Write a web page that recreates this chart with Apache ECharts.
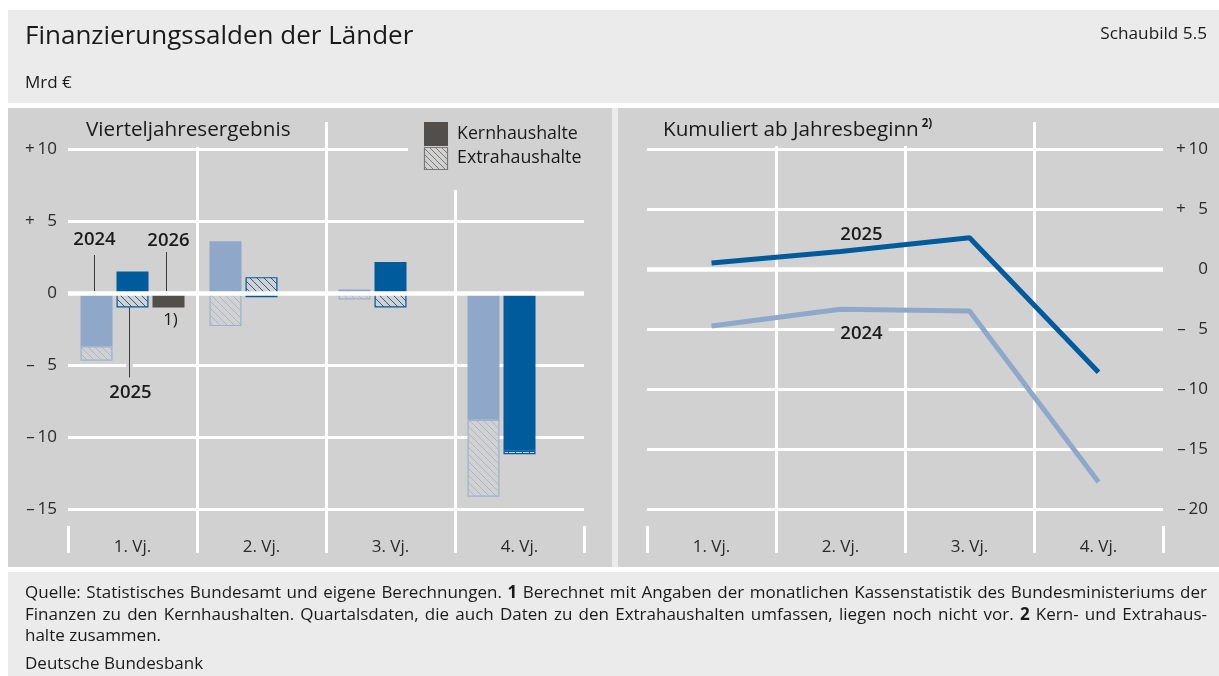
<!DOCTYPE html>
<html>
<head>
<meta charset="utf-8">
<script src="https://cdn.jsdelivr.net/npm/echarts@6/dist/echarts.min.js"></script>
<style>
  html, body { margin: 0; padding: 0; background: #ffffff; }
  #chart { width: 1219px; height: 676px; }
</style>
</head>
<body>
<div id="chart"></div>
<script>
// ---- data (Mrd €) ----
const quarters = ['1. Vj.', '2. Vj.', '3. Vj.', '4. Vj.'];
// quarterly balances
const kern2024  = [-3.7, 3.6, 0.25, -8.8];
const extra2024 = [-1.0, -2.3, -0.45, -5.35];
const kern2025  = [1.5, -0.3, 2.15, -10.95];
const extra2025 = [-1.0, 1.1, -1.0, -0.25];
const kern2026  = [-1.0, null, null, null];
// cumulative since start of year (core + extra budgets)
const cum2024 = [-4.75, -3.35, -3.5, -17.75];
const cum2025 = [0.5, 1.45, 2.6, -8.6];

const noteLines = [
  [['Quelle: Statistisches Bundesamt und eigene Berechnungen.', false], ['1', true],
   ['Berechnet mit Angaben der monatlichen Kassenstatistik des Bundesministeriums der', false]],
  [['Finanzen zu den Kernhaushalten. Quartalsdaten, die auch Daten zu den Extrahaushalten umfassen, liegen noch nicht vor.', false],
   ['2', true], ['Kern- und Extrahaus-', false]],
  [['halte zusammen.', false]]
];

// ---- styling ----
const FONT = '"Open Sans", "Noto Sans", sans-serif';
const TXT = '#1a1a1a';
const OUTER = '#ebebeb';
const PANEL = '#d1d1d1';
const GRIDC = '#ffffff';
const LIGHT = '#8fa8c9';
const DARK = '#005b9c';
const GREY = '#524e4c';
const BAR_W = 32, BAR_GAP = 4;
const AXIS_FS = 17;

function hatch(bg, fg, step, lw) {
  const c = document.createElement('canvas');
  c.width = step; c.height = step;
  const g = c.getContext('2d');
  g.fillStyle = bg; g.fillRect(0, 0, step, step);
  g.strokeStyle = fg; g.lineWidth = lw;
  [-step, 0, step].forEach(function (o) {
    g.beginPath(); g.moveTo(o, 0); g.lineTo(o + step, step); g.stroke();
  });
  return { image: c, repeat: 'repeat' };
}
const hatch24 = hatch(PANEL, '#a9b8cc', 7, 1);
const hatch25 = hatch(PANEL, '#23609a', 7, 1);
const hatchLeg = hatch(PANEL, '#7a7a7a', 6, 1);

function fmtTick(v) {
  if (v === 0) return '0';
  const a = Math.abs(v);
  return (v > 0 ? '+' : '\u2013') + '\u2009' + (a < 10 ? '\u2007' : '') + a;
}

const measureCtx = document.createElement('canvas').getContext('2d');
function textWidth(t, size, bold) {
  measureCtx.font = (bold ? 'bold ' : '') + size + 'px ' + FONT;
  return measureCtx.measureText(t).width;
}

function txt(x, y, text, size, opts) {
  opts = opts || {};
  return {
    type: 'text', x: x, y: y, z: 20,
    style: {
      text: text, fill: opts.fill || TXT, fontSize: size, fontFamily: FONT,
      fontWeight: opts.weight || (opts.bold ? 'bold' : 'normal'),
      align: opts.align || 'left', verticalAlign: opts.va || 'middle'
    }
  };
}

// justified footnote paragraph
function footnote(x0, x1, ys) {
  const lineWords = noteLines.map(function (line) {
    const words = [];
    line.forEach(function (seg) {
      seg[0].split(' ').forEach(function (w) { if (w) words.push([w, seg[1]]); });
    });
    return words;
  });
  // font size so that the longest line fits with plain word spacing
  const natural = function (words, size) {
    return words.reduce(function (a, w) { return a + textWidth(w[0], size, w[1]); }, 0) +
      (words.length - 1) * textWidth(' ', size, false);
  };
  const widest = Math.max.apply(null, lineWords.map(function (w) { return natural(w, 16); }));
  const size = Math.min(17, 16 * (x1 - x0) * 0.995 / widest);
  const out = [];
  const spaceW = textWidth(' ', size, false);
  lineWords.forEach(function (words, li) {
    const widths = words.map(function (w) { return textWidth(w[0], size, w[1]); });
    const total = widths.reduce(function (a, b) { return a + b; }, 0);
    const last = li === lineWords.length - 1;
    const gap = last ? spaceW : (x1 - x0 - total) / (words.length - 1);
    let x = x0;
    words.forEach(function (w, i) {
      out.push(txt(x, ys[li], w[0], size, { bold: w[1] }));
      x += widths[i] + gap;
    });
  });
  out.push(txt(x0, 664, 'Deutsche Bundesbank', size));
  return out;
}

function rect(x, y, w, h, fill, z) {
  return { type: 'rect', z: z, silent: true, shape: { x: x, y: y, width: w, height: h }, style: { fill: fill } };
}

const HEAD_FS = 20.7;
const baseGraphic = [
  rect(8, 10, 1211, 666, OUTER, -20),
  rect(8, 103, 1211, 5, '#ffffff', -19),
  rect(8, 567, 1211, 5, '#ffffff', -19),
  rect(8, 108, 604, 459, PANEL, -18),
  rect(618, 108, 601, 459, PANEL, -18),
  // backgrounds behind panel headings and legend
  rect(68, 111, 236, 36, PANEL, 1),
  rect(652, 111, 292, 35, PANEL, 1),
  rect(408, 111, 198, 79, PANEL, 1),
  txt(25, 37, 'Finanzierungssalden der Länder', 26),
  txt(1207, 34, 'Schaubild 5.5', 17.2, { align: 'right' }),
  txt(25, 83, 'Mrd €', 17),
  txt(86, 130, 'Vierteljahresergebnis', HEAD_FS),
  txt(663, 130, 'Kumuliert ab Jahresbeginn', HEAD_FS),
  txt(663 + textWidth('Kumuliert ab Jahresbeginn', HEAD_FS, false) + 3, 124, '2)', 11.5, { bold: true }),
  // legend
  rect(424, 122, 24, 24, GREY, 10),
  { type: 'rect', z: 10, shape: { x: 424.5, y: 147.5, width: 23, height: 22 }, style: { fill: hatchLeg, stroke: '#777777', lineWidth: 1.2 } },
  txt(457, 134, 'Kernhaushalte', 17.8),
  txt(457, 158, 'Extrahaushalte', 17.8)
].concat(footnote(25, 1207, [593, 615, 636]));

function sepX(gridIndex) {
  return {
    type: 'category', gridIndex: gridIndex, data: quarters, boundaryGap: true,
    axisLine: { show: false },
    axisTick: { show: true, inside: true, length: 27, lineStyle: { color: GRIDC, width: 3 } },
    axisLabel: { show: true, inside: true, margin: 6, verticalAlign: 'middle', color: '#2a2a2a', fontSize: AXIS_FS, fontFamily: FONT },
    splitLine: { show: true, showMinLine: false, showMaxLine: false, lineStyle: { color: GRIDC, width: 3 } }
  };
}
function hiddenX(gridIndex) {
  return { type: 'category', gridIndex: gridIndex, data: quarters, boundaryGap: true, show: false };
}
function valY(gridIndex, min, max, pos, margin, align) {
  return {
    type: 'value', gridIndex: gridIndex, min: min, max: max, interval: 5, position: pos,
    axisLine: { show: false }, axisTick: { show: false },
    axisLabel: { formatter: fmtTick, margin: margin, align: align, color: '#2a2a2a', fontSize: AXIS_FS, fontFamily: FONT },
    splitLine: { show: true, lineStyle: { color: GRIDC, width: 3 } }
  };
}

const zeroLine = {
  silent: true, symbol: ['none', 'none'],
  label: { show: false },
  lineStyle: { color: GRIDC, width: 4.5, type: 'solid' },
  data: [{ yAxis: 0 }]
};

function barSeries(name, data, stack, style, extra) {
  return Object.assign({
    type: 'bar', name: name, xAxisIndex: 0, yAxisIndex: 0, data: data, stack: stack,
    barWidth: BAR_W, barGap: (BAR_GAP / BAR_W * 100) + '%',
    itemStyle: style, emphasis: { disabled: true }
  }, extra || {});
}

const YEAR_FS = 18.5;
const YEAR_W = 600;
function lineLabel(text, idx, values, offset, bg) {
  return {
    symbol: 'circle', symbolSize: 1, itemStyle: { color: 'rgba(0,0,0,0)' }, silent: true,
    data: [{
      coord: [idx, values[idx]],
      label: {
        show: true, position: 'inside', offset: offset, formatter: text,
        color: TXT, fontSize: YEAR_FS, fontWeight: YEAR_W, fontFamily: FONT,
        backgroundColor: bg ? PANEL : 'transparent', padding: [1, 6]
      }
    }]
  };
}

const chart = echarts.init(document.getElementById('chart'), null, { renderer: 'canvas' });

const option = {
  animation: false,
  backgroundColor: '#ffffff',
  textStyle: { fontFamily: FONT },
  grid: [
    { left: 68, top: 149, width: 516, height: 360, outerBoundsMode: 'none' },
    { left: 68, top: 122, width: 516, height: 431, outerBoundsMode: 'none' },
    { left: 647, top: 149, width: 516, height: 360, outerBoundsMode: 'none' },
    { left: 647, top: 122, width: 516, height: 431, outerBoundsMode: 'none' }
  ],
  xAxis: [hiddenX(0), sepX(1), hiddenX(2), sepX(3)],
  yAxis: [
    valY(0, -15, 10, 'left', 11, 'right'),
    { type: 'value', gridIndex: 1, min: 0, max: 1, show: false },
    valY(2, -20, 10, 'right', 45, 'right'),
    { type: 'value', gridIndex: 3, min: 0, max: 1, show: false }
  ],
  series: [
    barSeries('Kernhaushalte 2024', kern2024, 's2024', { color: LIGHT }),
    barSeries('Extrahaushalte 2024', extra2024, 's2024', { color: hatch24, borderColor: '#9db1cc', borderWidth: 1.2 }),
    barSeries('Kernhaushalte 2025', kern2025, 's2025', { color: DARK }),
    barSeries('Extrahaushalte 2025', extra2025, 's2025', { color: hatch25, borderColor: DARK, borderWidth: 1.2 }),
    barSeries('Kernhaushalte 2026', kern2026, 's2026', { color: GREY }, { markLine: zeroLine }),
    {
      type: 'line', name: '2024', xAxisIndex: 2, yAxisIndex: 2, data: cum2024, z: 6,
      symbol: 'none', lineStyle: { color: LIGHT, width: 5 }, emphasis: { disabled: true },
      markLine: zeroLine,
      markPoint: lineLabel('2024', 1, cum2024, [21, 25], true)
    },
    {
      type: 'line', name: '2025', xAxisIndex: 2, yAxisIndex: 2, data: cum2025, z: 7,
      symbol: 'none', lineStyle: { color: DARK, width: 5 }, emphasis: { disabled: true },
      markPoint: lineLabel('2025', 1, cum2025, [21, -17], false)
    }
  ],
  graphic: { elements: baseGraphic }
};
chart.setOption(option);

// year annotations with leader lines on the first quarter's bars
(function () {
  const px = function (cat, v) { return chart.convertToPixel({ gridIndex: 0 }, [cat, v]); };
  const p0 = px(0, 0);
  const cx = p0[0], zeroY = p0[1];
  const slot = BAR_W + BAR_GAP;
  const x24 = cx - slot - 2, x25 = cx - 3, x26 = cx + slot - 2;
  const bottom25 = px(0, Math.min(0, kern2025[0]) + Math.min(0, extra2025[0]))[1];
  const bottom26 = px(0, kern2026[0])[1];
  const lead = function (x, y1, y2) {
    return { type: 'line', z: 15, silent: true, shape: { x1: x, y1: y1, x2: x, y2: y2 }, style: { stroke: '#3a3a3a', lineWidth: 1 } };
  };
  const gapLine = { type: 'line', z: 2, silent: true, shape: { x1: x25, y1: bottom25 + 1, x2: x25, y2: bottom25 + 70 }, style: { stroke: PANEL, lineWidth: 7 } };
  const yo = { align: 'center', weight: YEAR_W };
  const extraEls = [
    lead(x24, zeroY - 38, zeroY - 2), txt(x24, zeroY - 53, '2024', YEAR_FS, yo),
    lead(x26, zeroY - 41, zeroY - 2), txt(x26 + 2, zeroY - 52, '2026', YEAR_FS, yo),
    txt(x26 + 4, bottom26 + 13, '1)', 17, { align: 'center' }),
    gapLine, lead(x25, bottom25, bottom25 + 70), txt(x25 + 1, bottom25 + 85, '2025', YEAR_FS, yo)
  ];
  chart.setOption({ graphic: { elements: baseGraphic.concat(extraEls) } });
})();
</script>
</body>
</html>
